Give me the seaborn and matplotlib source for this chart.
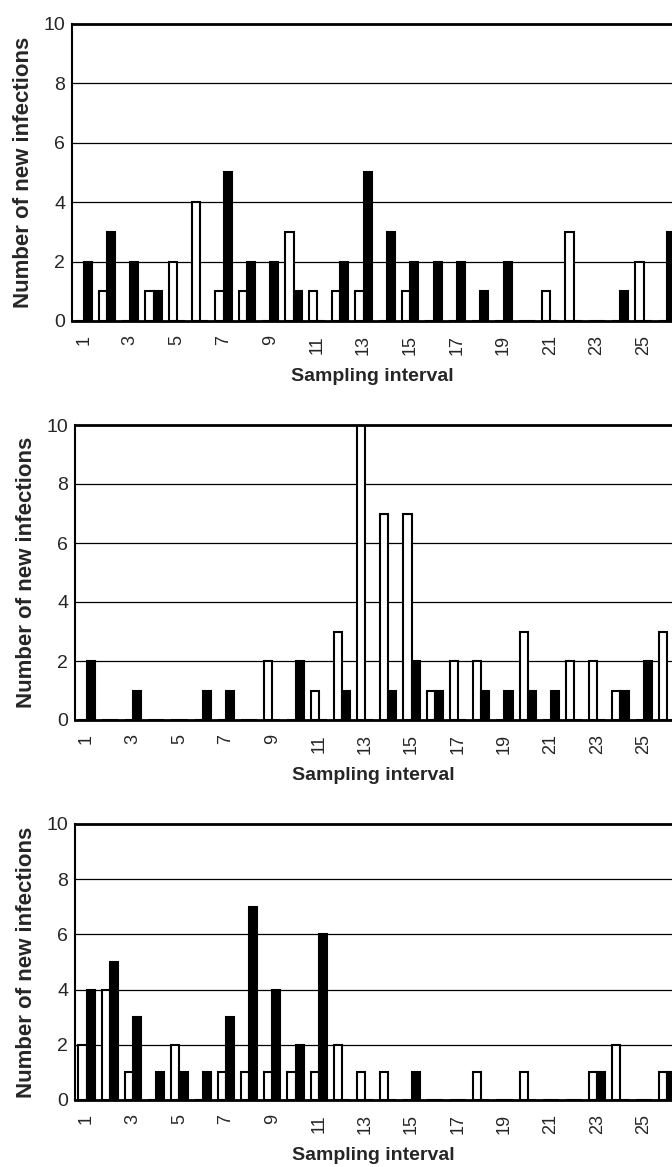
import numpy as np
import pandas as pd
import matplotlib
matplotlib.use("Agg")
import matplotlib.pyplot as plt
import seaborn as sns

sns.set_style("white")
plt.rcParams['font.family'] = ['Liberation Sans', 'DejaVu Sans']

intervals = list(range(1, 27))
tick_labels = [str(i) for i in range(1, 27, 2)]

# Panel 1 (top)
p1_white = [0, 1, 0, 1, 2, 4, 1, 1, 0, 3, 1, 1, 1, 0, 1, 0, 0, 0, 0, 0, 1, 3, 0, 0, 2, 0]
p1_black = [2, 3, 2, 1, 0, 0, 5, 2, 2, 1, 0, 2, 5, 3, 2, 2, 2, 1, 2, 0, 0, 0, 0, 1, 0, 3]
# Panel 2 (middle)
p2_white = [0, 0, 0, 0, 0, 0, 0, 0, 2, 0, 1, 3, 10, 7, 7, 1, 2, 2, 0, 3, 0, 2, 2, 1, 0, 3]
p2_black = [2, 0, 1, 0, 0, 1, 1, 0, 0, 2, 0, 1, 0, 1, 2, 1, 0, 1, 1, 1, 1, 0, 0, 1, 2, 0]
# Panel 3 (bottom)
p3_white = [2, 4, 1, 0, 2, 0, 1, 1, 1, 1, 1, 2, 1, 1, 0, 0, 0, 1, 0, 1, 0, 0, 1, 2, 0, 1]
p3_black = [4, 5, 3, 1, 1, 1, 3, 7, 4, 2, 6, 0, 0, 0, 1, 0, 0, 0, 0, 0, 0, 0, 1, 0, 0, 1]

series_names = ["Group 1", "Group 2"]
palette = {"Group 1": "white", "Group 2": "black"}

panels = [
    (p1_white, p1_black, [72/672, 1 - 321/1167, 600/672, 297/1167]),
    (p2_white, p2_black, [75/672, 1 - 720/1167, 597/672, 295/1167]),
    (p3_white, p3_black, [75/672, 1 - 1100/1167, 597/672, 276/1167]),
]

fig = plt.figure(figsize=(6.72, 11.67), dpi=100)

for white, black, pos in panels:
    ax = fig.add_axes(pos)
    df = pd.DataFrame({
        "interval": intervals * 2,
        "series": [series_names[0]] * len(intervals) + [series_names[1]] * len(intervals),
        "value": white + black,
    })
    ax.set_axisbelow(True)
    for yv in [2, 4, 6, 8]:
        ax.axhline(yv, color="black", linewidth=0.9, zorder=0)
    sns.barplot(data=df, x="interval", y="value", hue="series",
                hue_order=series_names, palette=palette, order=intervals,
                edgecolor="black", linewidth=1.5, width=0.7, saturation=1,
                legend=False, ax=ax, errorbar=None)
    ax.set_ylim(0, 10)
    ax.set_xlim(-0.5, 25.22)
    ax.set_yticks([0, 2, 4, 6, 8, 10])
    ax.set_yticklabels(["0", "2", "4", "6", "8", "10"], fontsize=14)
    ax.set_xticks(list(range(0, 26, 2)))
    ax.set_xticklabels(tick_labels, rotation=90, fontsize=13)
    ax.set_xticks([i + 0.5 for i in range(0, 25, 2)], minor=True)
    ax.tick_params(axis="x", which="major", length=0, pad=10)
    ax.tick_params(axis="x", which="minor", length=4, width=0.8, direction="out", color="black")
    ax.tick_params(axis="y", which="major", length=3, width=0.8, direction="out", color="black", pad=2)
    ax.set_xlabel("Sampling interval", fontsize=14, fontweight="bold", labelpad=9)
    ax.set_ylabel("Number of new infections", fontsize=16, fontweight="bold", labelpad=7)
    ax.spines["right"].set_visible(False)
    ax.spines["top"].set_linewidth(2.0)
    ax.spines["top"].set_color("black")
    ax.spines["left"].set_linewidth(1.5)
    ax.spines["left"].set_color("black")
    ax.spines["bottom"].set_linewidth(2.0)
    ax.spines["bottom"].set_color("black")

fig.savefig("out.png", dpi=100, facecolor="white")
